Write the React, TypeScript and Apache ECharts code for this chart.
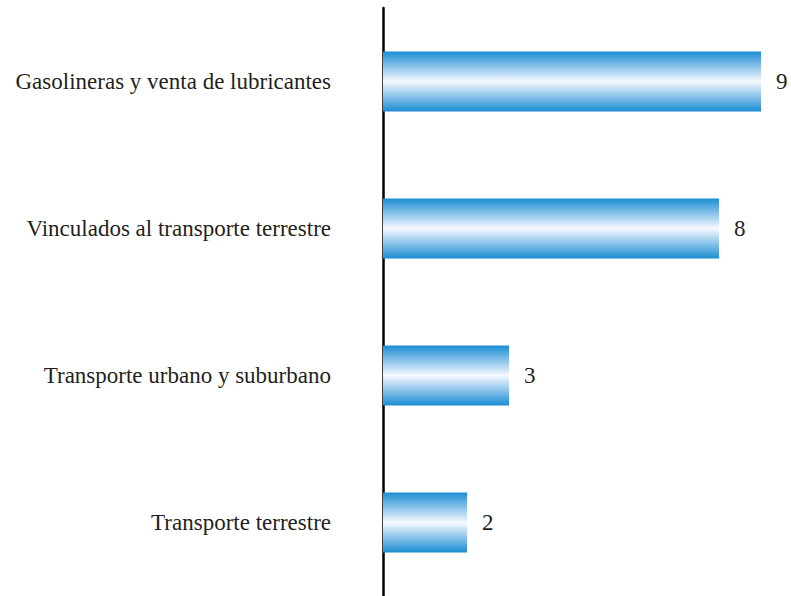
import React, { useEffect, useRef } from "react";
import * as echarts from "echarts";

const categories = [
  "Gasolineras y venta de lubricantes",
  "Vinculados al transporte terrestre",
  "Transporte urbano y suburbano",
  "Transporte terrestre",
];
const values = [9, 8, 3, 2];

export default function App() {
  const ref = useRef<HTMLDivElement>(null);
  useEffect(() => {
    if (!ref.current) return;
    const chart = echarts.init(ref.current, null, { renderer: "svg" });
    const barColor = new echarts.graphic.LinearGradient(0, 0, 0, 1, [
      { offset: 0, color: "#1b8dd4" },
      { offset: 0.5, color: "#f7f9ff" },
      { offset: 1, color: "#1b8dd4" },
    ]);
    chart.setOption({
      animation: false,
      backgroundColor: "#ffffff",
      grid: { left: 383, top: 8, width: 378, height: 591, containLabel: false },
      xAxis: {
        type: "value",
        min: 0,
        max: 9,
        show: false,
      },
      yAxis: {
        type: "category",
        inverse: true,
        data: categories,
        axisLine: { show: true, lineStyle: { color: "#000000", width: 2.5 } },
        axisTick: { show: false },
        splitLine: { show: false },
        axisLabel: {
          margin: 52,
          fontFamily: "Liberation Serif, Times New Roman, serif",
          fontSize: 23,
          color: "#231f20",
        },
      },
      series: [
        {
          type: "bar",
          data: values,
          barWidth: 60,
          itemStyle: { color: barColor },
          label: {
            show: true,
            position: "right",
            distance: 15,
            fontFamily: "Liberation Serif, Times New Roman, serif",
            fontSize: 23,
            color: "#231f20",
          },
        },
      ],
    });
    return () => chart.dispose();
  }, []);
  return (
    <div
      ref={ref}
      style={{ position: "fixed", left: 0, top: 0, width: 791, height: 596 }}
    />
  );
}
